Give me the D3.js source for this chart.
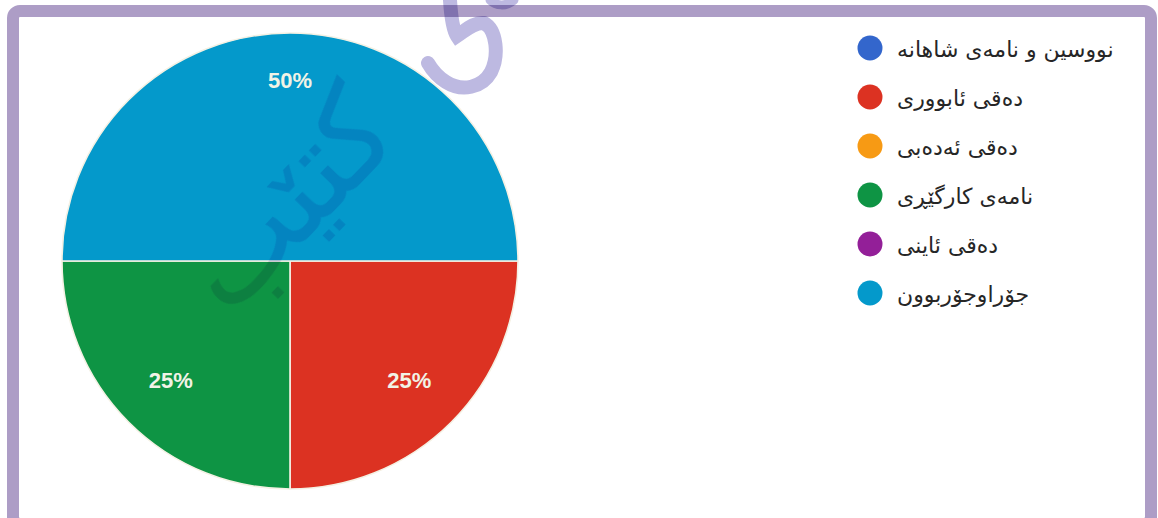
<!DOCTYPE html>
<html>
<head>
<meta charset="utf-8">
<script src="https://cdnjs.cloudflare.com/ajax/libs/d3/7.8.5/d3.min.js"></script>
<style>
  html, body { margin: 0; padding: 0; background: #ffffff; }
  svg { display: block; }
</style>
</head>
<body>
<svg id="chart" width="1158" height="518"></svg>
<script>
// Share of each text type
const categories = [
  "نووسین و نامەی شاهانە",
  "دەقی ئابووری",
  "دەقی ئەدەبی",
  "نامەی کارگێڕی",
  "دەقی ئاینی",
  "جۆراوجۆربوون"
];
const values = [0, 25, 0, 25, 0, 50];
const colors = ["#3366cc", "#dc3222", "#f79a14", "#0e9444", "#931f98", "#0499cb"];

const W = 1158, H = 518;
const svg = d3.select("#chart");

// frame
svg.append("rect")
  .attr("x", 13).attr("y", 11)
  .attr("width", 1138).attr("height", 513)
  .attr("rx", 7)
  .attr("fill", "none")
  .attr("stroke", "#ad9dc6")
  .attr("stroke-width", 12);

// pie
const cx = 290, cy = 261, r = 228;
const pie = d3.pie().sort(null).value(d => d.v)
  .startAngle(Math.PI / 2).endAngle(Math.PI / 2 + 2 * Math.PI);
const data = categories.map((c, i) => ({ c, v: values[i], color: colors[i] }));
const arcs = pie(data).filter(d => d.data.v > 0);
const arc = d3.arc().innerRadius(0).outerRadius(r);
const total = d3.sum(values);

const g = svg.append("g").attr("transform", `translate(${cx},${cy})`);
g.selectAll("path.slice")
  .data(arcs)
  .join("path")
  .attr("class", "slice")
  .attr("d", arc)
  .attr("fill", d => d.data.color)
  .attr("stroke", "#f4f1e4")
  .attr("stroke-width", 1.6);

// labels sit a little further out when the slice points straight up/down
function labelPos(d) {
  const mid = (d.startAngle + d.endAngle) / 2;
  const c2 = Math.cos(2 * mid);
  const lr = r * (0.74 + 0.05 * c2 * c2);
  return [Math.sin(mid) * lr, -Math.cos(mid) * lr];
}
g.selectAll("text.pct")
  .data(arcs)
  .join("text")
  .attr("class", "pct")
  .attr("transform", d => `translate(${labelPos(d)})`)
  .attr("text-anchor", "middle")
  .attr("dominant-baseline", "central")
  .attr("font-family", "Liberation Sans, Arial, sans-serif")
  .attr("font-weight", "bold")
  .attr("font-size", 22)
  .attr("fill", "#f1f3e6")
  .text(d => Math.round(d.data.v / total * 100) + "%");

// watermark
const wm = svg.append("g").style("mix-blend-mode", "multiply");
wm.append("text")
  .attr("transform", "translate(286,200) rotate(-46)")
  .attr("text-anchor", "middle")
  .attr("dominant-baseline", "central")
  .attr("font-family", "DejaVu Sans, sans-serif")
  .attr("font-size", 122)
  .attr("fill", "#e2dcf2")
  .text("کتێب");
wm.append("path")
  .attr("d", "M450,0 C451,16 453,30 457,36 C466,30 474,22 484,23 C497,30 499,56 491,72 C482,88 462,92 446,82 C438,77 432,70 428,63")
  .attr("fill", "none")
  .attr("stroke", "#bdb9e1")
  .attr("stroke-width", 14)
  .attr("stroke-linecap", "round");
wm.append("path")
  .attr("d", "M490,0 C496,6 506,7 514,0")
  .attr("fill", "none")
  .attr("stroke", "#bdb9e1")
  .attr("stroke-width", 9)
  .attr("stroke-linecap", "round");

// legend
const lg = svg.append("g");
const rows = lg.selectAll("g.row")
  .data(data)
  .join("g")
  .attr("class", "row")
  .attr("transform", (d, i) => `translate(870,${48 + i * 49})`);
rows.append("circle")
  .attr("r", 12.5)
  .attr("fill", d => d.color);
rows.append("text")
  .attr("x", 27)
  .attr("y", 1)
  .attr("dominant-baseline", "central")
  .attr("text-anchor", "start")
  .attr("font-family", "DejaVu Sans, sans-serif")
  .attr("font-size", 22)
  .attr("fill", "#262626")
  .text(d => d.c);
</script>
</body>
</html>
